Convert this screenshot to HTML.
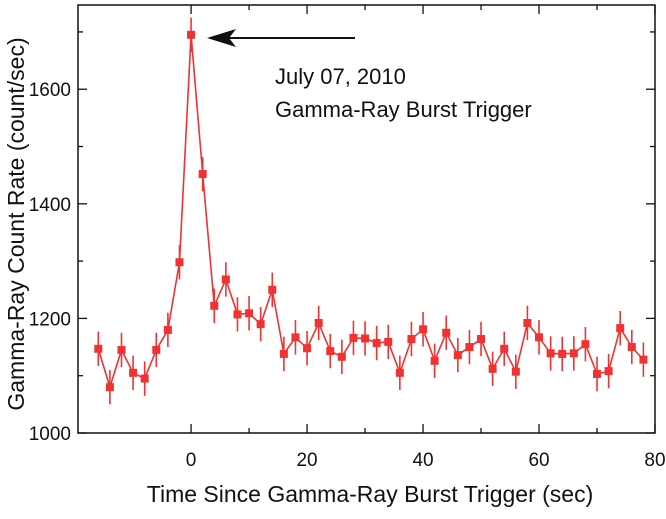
<!DOCTYPE html>
<html><head><meta charset="utf-8"><style>
body{margin:0;background:#fff;}
svg text{font-family:"Liberation Sans",sans-serif;fill:#111;}
</style></head><body>
<svg id="c" width="666" height="514">
<g id="g"></g>
</svg>
<script>
const times=[-16,-14,-12,-10,-8,-6,-4,-2,0,2,4,6,8,10,12,14,16,18,20,22,24,26,28,30,32,34,36,38,40,42,44,46,48,50,52,54,56,58,60,62,64,66,68,70,72,74,76,78];
const rates=[1147,1080,1145,1105,1095,1145,1180,1298,1695,1452,1222,1268,1207,1209,1190,1250,1138,1167,1148,1192,1143,1133,1166,1165,1157,1159,1105,1164,1181,1126,1175,1136,1150,1164,1112,1147,1107,1192,1167,1139,1138,1139,1155,1103,1108,1183,1150,1128];
const errs=rates.map(()=>30);
const xTicks=[0,20,40,60,80];
const yTicks=[1000,1200,1400,1600];
const NS="http://www.w3.org/2000/svg";
const L=78,R=655,T=5,B=433;
const xMin=-19.5,xMax=80,yMin=1000,yMax=1747;
const X=v=>L+(v-xMin)/(xMax-xMin)*(R-L);
const Y=v=>B-(v-yMin)/(yMax-yMin)*(B-T);
const g=document.getElementById('g');
function mk(t,a,p){const e=document.createElementNS(NS,t);for(const k in a)e.setAttribute(k,a[k]);(p||g).appendChild(e);return e;}
const fr=mk('rect',{x:L,y:T,width:R-L,height:B-T,fill:'none',stroke:'#111','stroke-width':1.5});


for(let v=0;v<=80;v+=10){const x=X(v),len=v%20?5:9;
 const t1=mk('line',{x1:x,y1:B,x2:x,y2:B-len,stroke:'#111','stroke-width':1.3});
 
 
 mk('line',{x1:x,y1:T,x2:x,y2:T+len,stroke:'#111','stroke-width':1.3});}
for(let v=1000;v<=1700;v+=100){const y=Y(v),len=v%200?5:9;
 const t2=mk('line',{x1:L,y1:y,x2:L+len,y2:y,stroke:'#111','stroke-width':1.3});
 
 
 mk('line',{x1:R,y1:y,x2:R-len,y2:y,stroke:'#111','stroke-width':1.3});}
xTicks.forEach(v=>{const t=mk('text',{x:X(v),y:466,'font-size':19,'text-anchor':'middle'});t.textContent=v;
 
 });
yTicks.forEach(v=>{const t=mk('text',{x:71,y:Y(v)+7,'font-size':19,'text-anchor':'end'});t.textContent=v;
 
 });
const pts=times.map((t,i)=>X(t)+','+Y(rates[i])).join(' ');
const ln=mk('polyline',{points:pts,fill:'none',stroke:'#f03232','stroke-width':1.6});


times.forEach((t,i)=>{const x=X(t),y=Y(rates[i]);
 const eb=mk('line',{x1:x,y1:Y(rates[i]+errs[i]),x2:x,y2:Y(rates[i]-errs[i]),stroke:'#f03232','stroke-width':1.6});
 
 
 const m=mk('rect',{x:x-4,y:y-4,width:8,height:8,fill:'#f03232'});
 
 });
const ar=mk('line',{x1:355,y1:38,x2:222,y2:38,stroke:'#111','stroke-width':2});


mk('polygon',{points:'207,38 236,29 229,38 236,47',fill:'#111'});
const a1=mk('text',{x:275,y:84,'font-size':22});a1.textContent='July 07, 2010';


const a2=mk('text',{x:275,y:117,'font-size':22});a2.textContent='Gamma-Ray Burst Trigger';


const xt=mk('text',{x:370,y:502,'font-size':23,'text-anchor':'middle'});xt.textContent='Time Since Gamma-Ray Burst Trigger (sec)';


const yt=mk('text',{x:0,y:0,'font-size':23,'text-anchor':'middle',transform:'translate(24,224) rotate(-90)'});yt.textContent='Gamma-Ray Count Rate (count/sec)';


</script>
</body></html>
